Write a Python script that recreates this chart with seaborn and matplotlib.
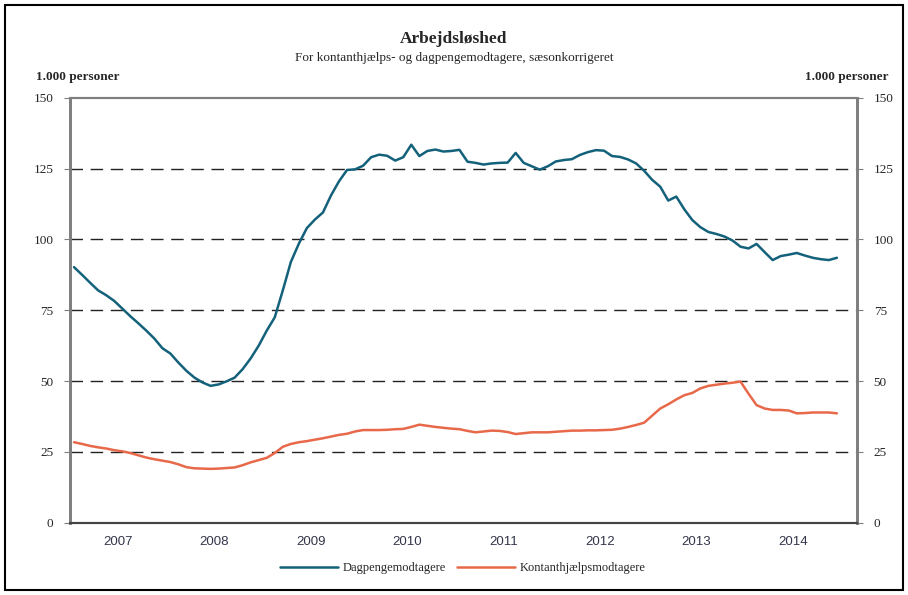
import numpy as np
import pandas as pd
import matplotlib.pyplot as plt
import seaborn as sns
from matplotlib.patches import Rectangle
import matplotlib.transforms as mtransforms

# monthly, Jan 2007 - Dec 2014 (1.000 personer)
months = pd.date_range('2007-01-01', periods=96, freq='MS')
years = ['2007', '2008', '2009', '2010', '2011', '2012', '2013', '2014']

dagpenge = [
    90.2, 87.5, 84.7, 82.0, 80.3, 78.3, 75.6, 72.9, 70.4, 67.8, 65.0, 61.6,
    59.7, 56.5, 53.6, 51.2, 49.5, 48.3, 48.8, 49.9, 51.2, 54.2, 58.0, 62.5,
    67.8, 72.5, 82.0, 92.0, 98.5, 104.0, 107.0, 109.5, 115.5, 120.5, 124.5, 124.7,
    126.0, 129.0, 129.9, 129.5, 127.8, 129.0, 133.4, 129.4, 131.2, 131.7, 131.0, 131.2,
    131.6, 127.4, 127.0, 126.4, 126.8, 127.0, 127.1, 130.5, 127.0, 125.8, 124.6, 125.8,
    127.5, 128.0, 128.3, 129.8, 130.8, 131.5, 131.3, 129.4, 129.1, 128.2, 126.8, 124.2,
    121.0, 118.6, 113.7, 115.1, 110.6, 106.8, 104.3, 102.6, 101.9, 101.0, 99.6, 97.4,
    96.8, 98.4, 95.5, 92.7, 94.1, 94.6, 95.2, 94.3, 93.5, 93.0, 92.7, 93.5,
]

kontanthjaelp = [
    28.4, 27.8, 27.1, 26.6, 26.2, 25.6, 25.2, 24.6, 23.8, 23.0, 22.4, 21.9,
    21.4, 20.6, 19.6, 19.2, 19.1, 19.0, 19.1, 19.3, 19.5, 20.3, 21.3, 22.1,
    22.9, 24.6, 26.8, 27.8, 28.4, 28.8, 29.3, 29.8, 30.4, 31.0, 31.4, 32.2,
    32.7, 32.7, 32.7, 32.8, 33.0, 33.1, 33.8, 34.6, 34.2, 33.8, 33.5, 33.2,
    33.0, 32.4, 31.9, 32.2, 32.5, 32.4, 32.0, 31.3, 31.6, 31.9, 31.9, 31.9,
    32.1, 32.3, 32.5, 32.5, 32.6, 32.6, 32.7, 32.8, 33.2, 33.8, 34.5, 35.3,
    37.8, 40.3, 41.8, 43.5, 45.0, 45.8, 47.4, 48.3, 48.7, 49.1, 49.4, 49.8,
    45.5, 41.5, 40.3, 39.8, 39.8, 39.6, 38.6, 38.7, 38.9, 38.9, 38.9, 38.6,
]

df = pd.DataFrame({'month': months, 'Dagpengemodtagere': dagpenge,
                   'Kontanthjælpsmodtagere': kontanthjaelp})
# category position: each month sits in the middle of its slot
df['pos'] = np.arange(len(df)) + 0.5

sns.set_style('white')
plt.rcParams['font.family'] = ['Liberation Serif', 'DejaVu Serif']

BLUE = '#13617A'
RED = '#E8694A'
GREY = '#7f7f7f'

fig = plt.figure(figsize=(9.08, 5.95), dpi=100)
ax = fig.add_axes([0.0771, 0.1215, 0.8667, 0.7143])

sns.lineplot(data=df, x='pos', y='Dagpengemodtagere', ax=ax, color=BLUE,
             linewidth=1.8, label='Dagpengemodtagere', legend=False)
sns.lineplot(data=df, x='pos', y='Kontanthjælpsmodtagere', ax=ax, color=RED,
             linewidth=1.8, label='Kontanthjælpsmodtagere', legend=False)

ax.set_xlim(0, 98)
ax.set_ylim(0, 150)
ax.set_xlabel('')
ax.set_ylabel('')

for yv in [25, 50, 75, 100, 125]:
    ax.axhline(yv, color='#222222', linewidth=1.0, dashes=(9, 5.5), zorder=0)

ax.set_yticks(range(0, 151, 25))
ax.tick_params(axis='y', direction='out', length=4, color=GREY, labelsize=9.5, pad=8)
ax.set_xticks(range(0, 97, 12))
ax.set_xticklabels([])
ax.set_xticks(range(0, 97), minor=True)
ax.tick_params(axis='x', which='major', direction='out', length=7, width=1.2, color='#444444')
ax.tick_params(axis='x', which='minor', direction='out', length=3, width=0.8, color='#444444')

trans = mtransforms.blended_transform_factory(ax.transData, ax.transAxes)
for k, yr in enumerate(years):
    ax.text(12 * k + 6, -0.045, yr, transform=trans, ha='center', va='center',
            fontsize=9.5, color='#33364a', family=['Liberation Sans', 'DejaVu Sans'])

ax2 = ax.twinx()
ax2.set_ylim(0, 150)
ax2.set_yticks(range(0, 151, 25))
ax2.tick_params(axis='y', direction='out', length=4, color=GREY, labelsize=9.5, pad=8)

for a in (ax, ax2):
    for side in ('left', 'right'):
        a.spines[side].set_color(GREY)
        a.spines[side].set_linewidth(2)
    a.spines['top'].set_color(GREY)
    a.spines['top'].set_linewidth(1.5)
    a.spines['bottom'].set_color('#444444')
    a.spines['bottom'].set_linewidth(1.5)

fig.text(0.5, 0.935, 'Arbejdsløshed', ha='center', va='center',
         fontsize=12.5, fontweight='bold')
fig.text(0.5, 0.903, 'For kontanthjælps- og dagpengemodtagere, sæsonkorrigeret',
         ha='center', va='center', fontsize=9.5)
fig.text(0.040, 0.870, '1.000 personer', ha='left', va='center',
         fontsize=9.5, fontweight='bold')
fig.text(0.978, 0.870, '1.000 personer', ha='right', va='center',
         fontsize=9.5, fontweight='bold')

handles, labels = ax.get_legend_handles_labels()
fig.legend(handles, labels, loc='center', bbox_to_anchor=(0.51, 0.045), ncol=2,
           frameon=False, fontsize=9, handlelength=4.6, columnspacing=0.9,
           handletextpad=0.4)

fig.patches.append(Rectangle((0.006, 0.008), 0.988, 0.984, transform=fig.transFigure,
                             fill=False, edgecolor='black', linewidth=1.5))

fig.savefig('out.png', dpi=100)
